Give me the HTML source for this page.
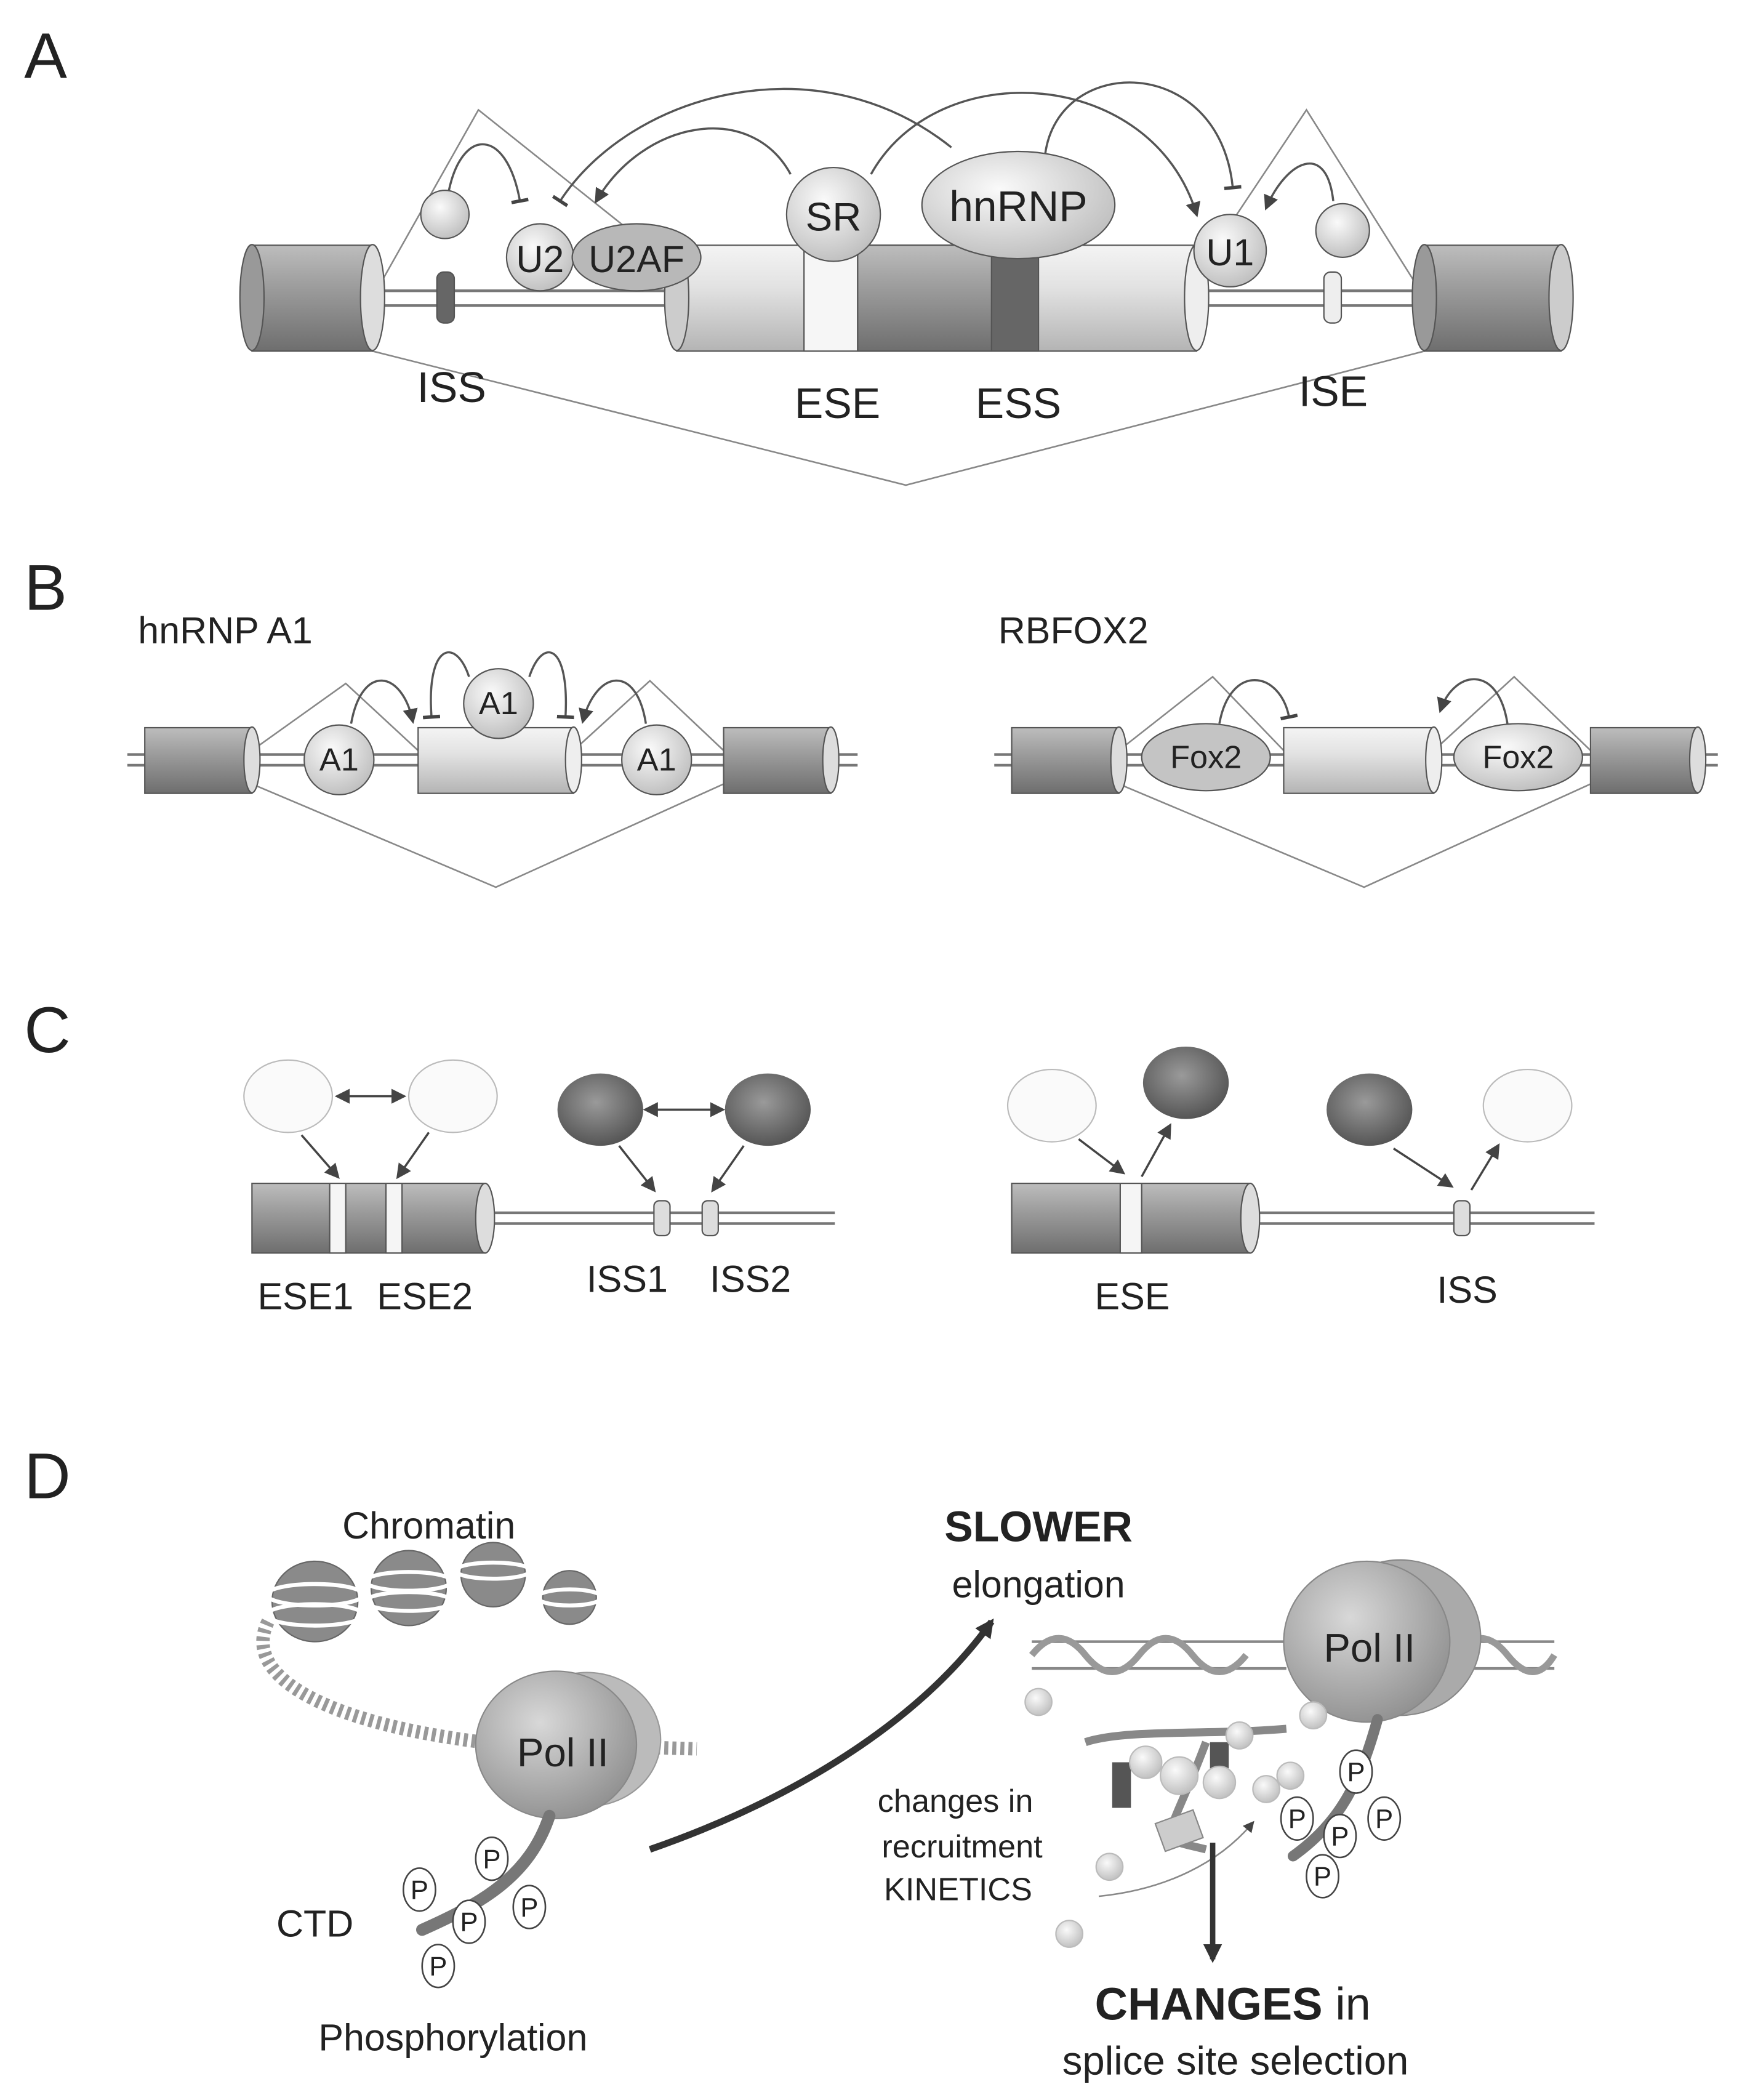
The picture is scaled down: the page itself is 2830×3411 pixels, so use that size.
<!DOCTYPE html>
<html><head><meta charset="utf-8"><style>
html,body{margin:0;padding:0;background:#fff}
svg{display:block}
text{font-family:"Liberation Sans",sans-serif;fill:#222}
</style></head><body>
<svg width="2830" height="3411" viewBox="0 0 1300 1567" xmlns="http://www.w3.org/2000/svg">
<defs>
<linearGradient id="cyl" x1="0" y1="0" x2="0" y2="1">
<stop offset="0" stop-color="#bdbdbd"/><stop offset="0.35" stop-color="#a0a0a0"/><stop offset="1" stop-color="#6e6e6e"/></linearGradient>
<linearGradient id="cylL" x1="0" y1="0" x2="0" y2="1">
<stop offset="0" stop-color="#f4f4f4"/><stop offset="0.4" stop-color="#e2e2e2"/><stop offset="1" stop-color="#b4b4b4"/></linearGradient>
<radialGradient id="ball" cx="0.4" cy="0.35" r="0.7"><stop offset="0" stop-color="#fafafa"/><stop offset="1" stop-color="#bdbdbd"/></radialGradient>
<radialGradient id="dark" cx="0.45" cy="0.4" r="0.7"><stop offset="0" stop-color="#9a9a9a"/><stop offset="1" stop-color="#4a4a4a"/></radialGradient>
<radialGradient id="pol" cx="0.4" cy="0.35" r="0.75"><stop offset="0" stop-color="#d8d8d8"/><stop offset="1" stop-color="#8a8a8a"/></radialGradient>
<marker id="ah" viewBox="0 0 10 10" refX="8" refY="5" markerWidth="7" markerHeight="7" orient="auto-start-reverse"><path d="M0,0 L10,5 L0,10 z" fill="#444"/></marker>
<marker id="ahb" viewBox="0 0 10 10" refX="8" refY="5" markerWidth="14" markerHeight="14" markerUnits="userSpaceOnUse" orient="auto"><path d="M0,0 L10,5 L0,10 z" fill="#333"/></marker>
<marker id="tb" viewBox="0 0 10 10" refX="5" refY="5" markerWidth="8" markerHeight="8" orient="auto"><path d="M5,0 L5,10" stroke="#444" stroke-width="2"/></marker>
</defs>

<!-- Panel A -->
<text x="18" y="58" font-size="48">A</text>
<g stroke="#888" stroke-width="1.2" fill="none">
<polyline points="278,222 357,82 505,200"/>
<polyline points="893,205 975,82 1063,222"/>
<polyline points="278,262 676,362 1063,262"/>
</g>
<g stroke="#777" stroke-width="2">
<line x1="278" y1="217" x2="505" y2="217"/><line x1="278" y1="228" x2="505" y2="228"/>
<line x1="893" y1="217" x2="1063" y2="217"/><line x1="893" y1="228" x2="1063" y2="228"/>
</g>
<g stroke="#555" stroke-width="1">
<rect x="188" y="183" width="90" height="79" fill="url(#cyl)"/><ellipse cx="188" cy="222" rx="9" ry="39.5" fill="#999"/><ellipse cx="278" cy="222" rx="9" ry="39.5" fill="#ddd"/>
<rect x="505" y="183" width="388" height="79" fill="url(#cylL)"/>
<rect x="640" y="183" width="100" height="79" fill="url(#cyl)"/>
<rect x="600" y="183" width="40" height="79" fill="#f6f6f6"/>
<rect x="740" y="183" width="35" height="79" fill="#666"/>
<ellipse cx="505" cy="222" rx="9" ry="39.5" fill="#ccc"/><ellipse cx="893" cy="222" rx="9" ry="39.5" fill="#eee"/>
<rect x="1063" y="183" width="102" height="79" fill="url(#cyl)"/><ellipse cx="1063" cy="222" rx="9" ry="39.5" fill="#999"/><ellipse cx="1165" cy="222" rx="9" ry="39.5" fill="#ccc"/>
<rect x="326" y="203" width="13" height="38" rx="5" fill="#666"/>
<rect x="988" y="203" width="13" height="38" rx="5" fill="#eee"/>
<circle cx="332" cy="160" r="18" fill="url(#ball)"/>
<circle cx="1002" cy="172" r="20" fill="url(#ball)"/>
<circle cx="403" cy="192" r="25" fill="url(#ball)"/>
<ellipse cx="475" cy="192" rx="48" ry="25" fill="#b8b8b8"/>
<circle cx="622" cy="160" r="35" fill="url(#ball)"/>
<ellipse cx="760" cy="153" rx="72" ry="40" fill="url(#ball)"/>
<circle cx="918" cy="187" r="27" fill="url(#ball)"/>
</g>
<text x="403" y="203" font-size="28" text-anchor="middle">U2</text>
<text x="475" y="203" font-size="28" text-anchor="middle">U2AF</text>
<text x="622" y="172" font-size="30" text-anchor="middle">SR</text>
<text x="760" y="165" font-size="32" text-anchor="middle">hnRNP</text>
<text x="918" y="198" font-size="28" text-anchor="middle">U1</text>
<g stroke="#555" stroke-width="1.6" fill="none">
<path d="M335,142 C345,95 378,95 388,150" marker-end="url(#tb)"/>
<path d="M590,130 C560,75 480,90 445,150" marker-end="url(#ah)"/>
<path d="M710,110 C610,30 470,70 418,150" marker-end="url(#tb)"/>
<path d="M650,130 C700,40 860,50 893,160" marker-end="url(#ah)"/>
<path d="M780,115 C790,40 910,40 920,140" marker-end="url(#tb)"/>
<path d="M995,150 C990,105 960,120 945,155" marker-end="url(#ah)"/>
</g>
<g font-size="32" text-anchor="middle"><text x="337" y="300">ISS</text><text x="625" y="312">ESE</text><text x="760" y="312">ESS</text><text x="995" y="303">ISE</text></g>

<!-- Panel B -->
<text x="18" y="455" font-size="48">B</text>
<text x="103" y="480" font-size="28">hnRNP A1</text>
<text x="745" y="480" font-size="28">RBFOX2</text>
<g stroke="#777" stroke-width="2">
<line x1="95" y1="563" x2="640" y2="563"/><line x1="95" y1="571" x2="640" y2="571"/>
<line x1="742" y1="563" x2="1282" y2="563"/><line x1="742" y1="571" x2="1282" y2="571"/>
</g>
<g stroke="#888" stroke-width="1.2" fill="none">
<polyline points="188,560 258,510 312,560"/><polyline points="428,560 485,508 540,560"/><polyline points="188,585 370,662 540,585"/>
<polyline points="835,560 905,505 958,560"/><polyline points="1070,560 1130,505 1187,560"/><polyline points="835,585 1018,662 1187,585"/>
</g>
<g stroke="#555" stroke-width="1">
<rect x="108" y="543" width="80" height="49" fill="url(#cyl)"/><ellipse cx="188" cy="567" rx="6" ry="24.5" fill="#ddd"/>
<rect x="312" y="543" width="116" height="49" fill="url(#cylL)"/><ellipse cx="428" cy="567" rx="6" ry="24.5" fill="#eee"/>
<rect x="540" y="543" width="80" height="49" fill="url(#cyl)"/><ellipse cx="620" cy="567" rx="6" ry="24.5" fill="#ddd"/>
<rect x="755" y="543" width="80" height="49" fill="url(#cyl)"/><ellipse cx="835" cy="567" rx="6" ry="24.5" fill="#ddd"/>
<rect x="958" y="543" width="112" height="49" fill="url(#cylL)"/><ellipse cx="1070" cy="567" rx="6" ry="24.5" fill="#eee"/>
<rect x="1187" y="543" width="80" height="49" fill="url(#cyl)"/><ellipse cx="1267" cy="567" rx="6" ry="24.5" fill="#ddd"/>
<circle cx="253" cy="567" r="26" fill="url(#ball)"/><circle cx="372" cy="525" r="26" fill="url(#ball)"/><circle cx="490" cy="567" r="26" fill="url(#ball)"/>
<ellipse cx="900" cy="565" rx="48" ry="25" fill="#c4c4c4"/><ellipse cx="1133" cy="565" rx="48" ry="25" fill="url(#ball)"/>
</g>
<g font-size="24" text-anchor="middle"><text x="253" y="575">A1</text><text x="372" y="533">A1</text><text x="490" y="575">A1</text><text x="900" y="573">Fox2</text><text x="1133" y="573">Fox2</text></g>
<g stroke="#555" stroke-width="1.6" fill="none">
<path d="M262,540 C270,495 300,500 308,538" marker-end="url(#ah)"/>
<path d="M350,505 C340,475 318,480 322,535" marker-end="url(#tb)"/>
<path d="M395,505 C405,475 425,480 422,535" marker-end="url(#tb)"/>
<path d="M482,540 C475,495 445,500 435,538" marker-end="url(#ah)"/>
<path d="M910,540 C918,495 955,500 962,535" marker-end="url(#tb)"/>
<path d="M1125,540 C1118,495 1085,500 1075,530" marker-end="url(#ah)"/>
</g>

<!-- Panel C -->
<text x="18" y="785" font-size="48">C</text>
<g stroke="#777" stroke-width="2">
<line x1="362" y1="905" x2="623" y2="905"/><line x1="362" y1="913" x2="623" y2="913"/>
<line x1="933" y1="905" x2="1190" y2="905"/><line x1="933" y1="913" x2="1190" y2="913"/>
</g>
<g stroke="#555" stroke-width="1">
<rect x="188" y="883" width="174" height="52" fill="url(#cyl)"/><ellipse cx="362" cy="909" rx="7" ry="26" fill="#ddd"/>
<rect x="246" y="883" width="12" height="52" fill="#f5f5f5"/><rect x="288" y="883" width="12" height="52" fill="#f5f5f5"/>
<rect x="488" y="896" width="12" height="26" rx="4" fill="#ddd"/><rect x="524" y="896" width="12" height="26" rx="4" fill="#ddd"/>
<rect x="755" y="883" width="178" height="52" fill="url(#cyl)"/><ellipse cx="933" cy="909" rx="7" ry="26" fill="#ddd"/>
<rect x="836" y="883" width="16" height="52" fill="#f5f5f5"/>
<rect x="1085" y="896" width="12" height="26" rx="4" fill="#ddd"/>
</g>
<g stroke="#bbb" stroke-width="1">
<ellipse cx="215" cy="818" rx="33" ry="27" fill="#fafafa"/><ellipse cx="338" cy="818" rx="33" ry="27" fill="#fafafa"/>
<ellipse cx="785" cy="825" rx="33" ry="27" fill="#fafafa"/><ellipse cx="1140" cy="825" rx="33" ry="27" fill="#fafafa"/>
</g>
<ellipse cx="448" cy="828" rx="32" ry="27" fill="url(#dark)"/><ellipse cx="573" cy="828" rx="32" ry="27" fill="url(#dark)"/>
<ellipse cx="885" cy="808" rx="32" ry="27" fill="url(#dark)"/><ellipse cx="1022" cy="828" rx="32" ry="27" fill="url(#dark)"/>
<g stroke="#444" stroke-width="1.6" fill="none">
<line x1="252" y1="818" x2="301" y2="818" marker-end="url(#ah)" marker-start="url(#ah)"/>
<line x1="482" y1="828" x2="539" y2="828" marker-end="url(#ah)" marker-start="url(#ah)"/>
<line x1="225" y1="847" x2="252" y2="878" marker-end="url(#ah)"/><line x1="320" y1="845" x2="297" y2="878" marker-end="url(#ah)"/>
<line x1="462" y1="855" x2="488" y2="888" marker-end="url(#ah)"/><line x1="555" y1="855" x2="532" y2="888" marker-end="url(#ah)"/>
<line x1="805" y1="850" x2="838" y2="875" marker-end="url(#ah)"/><line x1="852" y1="878" x2="873" y2="840" marker-end="url(#ah)"/>
<line x1="1040" y1="857" x2="1083" y2="885" marker-end="url(#ah)"/><line x1="1098" y1="888" x2="1118" y2="855" marker-end="url(#ah)"/>
</g>
<g font-size="28" text-anchor="middle"><text x="228" y="977">ESE1</text><text x="317" y="977">ESE2</text><text x="468" y="964">ISS1</text><text x="560" y="964">ISS2</text><text x="845" y="977">ESE</text><text x="1095" y="972">ISS</text></g>

<!-- Panel D -->
<text x="18" y="1118" font-size="48">D</text>
<text x="320" y="1148" font-size="28" text-anchor="middle">Chromatin</text>
<g fill="#8a8a8a" stroke="#666">
<ellipse cx="235" cy="1195" rx="32" ry="30"/><ellipse cx="305" cy="1185" rx="28" ry="28"/><ellipse cx="368" cy="1175" rx="24" ry="24"/><ellipse cx="425" cy="1192" rx="20" ry="20"/>
</g>
<g stroke="#fff" stroke-width="3" fill="none">
<ellipse cx="235" cy="1190" rx="36" ry="8"/><ellipse cx="235" cy="1205" rx="36" ry="8"/>
<ellipse cx="305" cy="1180" rx="32" ry="7"/><ellipse cx="305" cy="1195" rx="32" ry="7"/>
<ellipse cx="368" cy="1172" rx="28" ry="6"/><ellipse cx="425" cy="1192" rx="24" ry="6"/>
</g>
<path d="M200,1210 C180,1250 240,1285 360,1300 L520,1305" stroke="#999" stroke-width="10" fill="none" stroke-dasharray="3 3"/>
<ellipse cx="438" cy="1298" rx="55" ry="50" fill="#bbb" stroke="#999"/>
<ellipse cx="415" cy="1302" rx="60" ry="55" fill="url(#pol)" stroke="#888"/>
<text x="420" y="1318" font-size="30" text-anchor="middle">Pol II</text>
<path d="M410,1355 C395,1400 360,1420 315,1440" stroke="#777" stroke-width="9" fill="none" stroke-linecap="round"/>
<g stroke="#444" stroke-width="1.2" fill="#fff">
<ellipse cx="367" cy="1387" rx="12" ry="16"/><ellipse cx="313" cy="1410" rx="12" ry="16"/><ellipse cx="350" cy="1434" rx="12" ry="16"/><ellipse cx="395" cy="1423" rx="12" ry="16"/><ellipse cx="327" cy="1467" rx="12" ry="16"/>
</g>
<g font-size="20" text-anchor="middle"><text x="367" y="1394">P</text><text x="313" y="1417">P</text><text x="350" y="1441">P</text><text x="395" y="1430">P</text><text x="327" y="1474">P</text></g>
<text x="235" y="1445" font-size="28" text-anchor="middle">CTD</text>
<text x="338" y="1530" font-size="28" text-anchor="middle">Phosphorylation</text>
<path d="M485,1380 C600,1340 690,1280 740,1210" stroke="#333" stroke-width="5" fill="none" marker-end="url(#ahb)"/>
<text x="775" y="1150" font-size="32" font-weight="bold" text-anchor="middle">SLOWER</text>
<text x="775" y="1192" font-size="28" text-anchor="middle">elongation</text>
<path d="M770,1225 L960,1225 M770,1245 L960,1245 M1080,1225 L1160,1225 M1080,1245 L1160,1245" stroke="#888" stroke-width="2"/>
<path d="M770,1235 Q790,1210 810,1235 T850,1235 T890,1235 T930,1235 M1085,1235 Q1105,1210 1125,1235 T1160,1235" stroke="#999" stroke-width="5" fill="none"/>
<ellipse cx="1045" cy="1222" rx="60" ry="58" fill="#aaa" stroke="#888"/>
<ellipse cx="1020" cy="1225" rx="62" ry="60" fill="url(#pol)" stroke="#888"/>
<text x="1022" y="1240" font-size="30" text-anchor="middle">Pol II</text>
<path d="M1028,1283 C1015,1330 1000,1360 965,1385" stroke="#777" stroke-width="8" fill="none" stroke-linecap="round"/>
<path d="M960,1290 C900,1295 840,1290 810,1300 M900,1300 C870,1380 860,1370 900,1380" stroke="#888" stroke-width="6" fill="none"/>
<rect x="830" y="1315" width="14" height="34" fill="#555"/><rect x="903" y="1300" width="14" height="34" fill="#555"/>
<rect x="865" y="1355" width="30" height="22" fill="#ccc" stroke="#888" transform="rotate(-20 880 1366)"/>
<g fill="url(#ball)" stroke="#bbb">
<circle cx="775" cy="1270" r="10"/><circle cx="855" cy="1315" r="12"/><circle cx="880" cy="1325" r="14"/><circle cx="925" cy="1295" r="10"/><circle cx="945" cy="1335" r="10"/><circle cx="963" cy="1325" r="10"/><circle cx="980" cy="1280" r="10"/><circle cx="828" cy="1393" r="10"/><circle cx="798" cy="1443" r="10"/><circle cx="910" cy="1330" r="12"/>
</g>
<g stroke="#444" stroke-width="1.2" fill="#fff">
<ellipse cx="1012" cy="1322" rx="12" ry="16"/><ellipse cx="968" cy="1357" rx="12" ry="16"/><ellipse cx="1000" cy="1370" rx="12" ry="16"/><ellipse cx="1033" cy="1357" rx="12" ry="16"/><ellipse cx="987" cy="1400" rx="12" ry="16"/>
</g>
<g font-size="20" text-anchor="middle"><text x="1012" y="1329">P</text><text x="968" y="1364">P</text><text x="1000" y="1377">P</text><text x="1033" y="1364">P</text><text x="987" y="1407">P</text></g>
<g font-size="24" text-anchor="middle"><text x="713" y="1352">changes  in</text><text x="718" y="1386">recruitment</text><text x="715" y="1418">KINETICS</text></g>
<path d="M820,1415 C870,1410 910,1390 935,1360" stroke="#888" stroke-width="1.2" fill="none" marker-end="url(#ah)"/>
<path d="M905,1375 L905,1462" stroke="#333" stroke-width="4" marker-end="url(#ahb)"/>
<text x="920" y="1507" font-size="34" text-anchor="middle"><tspan font-weight="bold">CHANGES</tspan> in</text>
<text x="922" y="1548" font-size="30" text-anchor="middle">splice site selection</text>
</svg>
</body></html>
